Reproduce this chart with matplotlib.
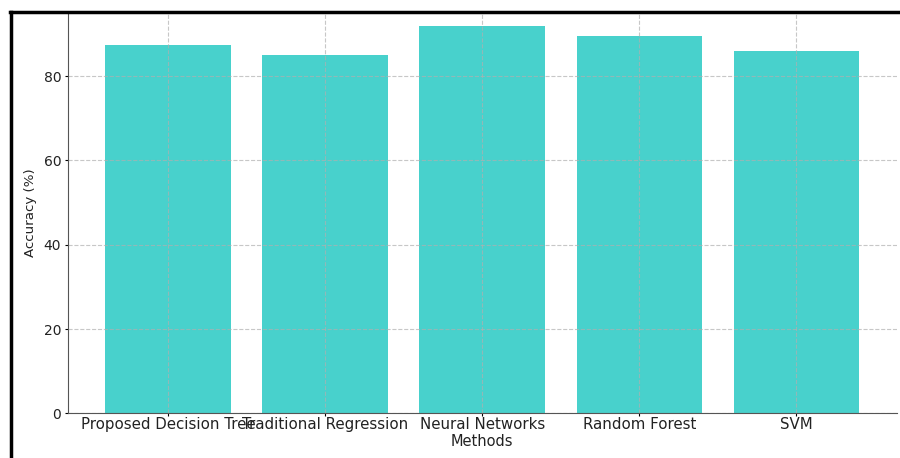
import matplotlib
matplotlib.use("Agg")
import matplotlib.pyplot as plt
from matplotlib.lines import Line2D

methods = ["Proposed Decision Tree", "Traditional Regression", "Neural Networks",
           "Random Forest", "SVM"]
accuracy = [87.5, 85.0, 92.0, 89.5, 86.0]

fig = plt.figure(figsize=(9, 4.58), dpi=100)
# axes top sits just under the black frame line
ax = fig.add_axes([0.075, 0.0976, 0.9217, 0.876])

ax.bar(methods, accuracy, color="mediumturquoise", width=0.8)
ax.set_ylim(0, 95.2)
ax.set_xlim(-0.64, 4.64)
ax.set_xlabel("Methods", fontsize=10.5, labelpad=1, color="#222222")
ax.set_ylabel("Accuracy (%)", fontsize=9.6, labelpad=5, color="#222222")
ax.set_yticks([0, 20, 40, 60, 80])
ax.tick_params(axis="x", labelsize=10.8, length=2.5, pad=0.5, labelcolor="#222222")
ax.tick_params(axis="y", labelsize=10, length=2.5, pad=2, labelcolor="#222222")
ax.grid(True, linestyle="--", color="#b0b0b0", linewidth=0.8, alpha=0.7)

for side in ["top", "right"]:
    ax.spines[side].set_visible(False)
for side in ["left", "bottom"]:
    ax.spines[side].set_color("#555555")

# black frame from the screenshot edge
fig.add_artist(Line2D([10 / 900, 1], [1 - 11.5 / 458, 1 - 11.5 / 458],
                      color="black", linewidth=2.5, transform=fig.transFigure))
fig.add_artist(Line2D([10.5 / 900, 10.5 / 900], [0, 1 - 11.5 / 458],
                      color="black", linewidth=2.5, transform=fig.transFigure))

fig.savefig("out.png", dpi=100)
